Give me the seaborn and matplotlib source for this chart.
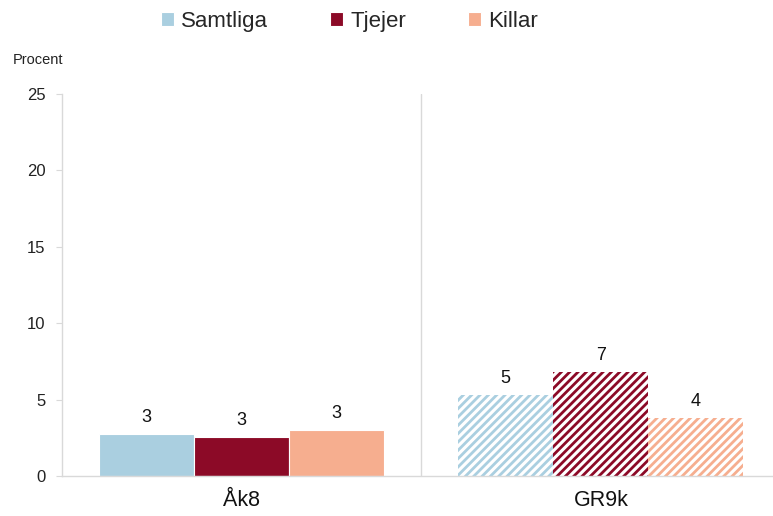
import pandas as pd
import seaborn as sns
import matplotlib.pyplot as plt

# data
grupper = ["Åk8", "GR9k"]
serier = ["Samtliga", "Tjejer", "Killar"]
samtliga = [2.75, 5.3]
tjejer = [2.55, 6.8]
killar = [3.0, 3.8]
farger = ["#AACFE0", "#8C0A27", "#F6AE8F"]

df = pd.DataFrame({
    "Grupp": grupper * 3,
    "Kön": [s for s in serier for _ in grupper],
    "Procent": samtliga + tjejer + killar,
})

sns.set_style("white")
plt.rcParams['font.family'] = ['Liberation Sans', 'DejaVu Sans']
plt.rcParams['hatch.linewidth'] = 2.0

fig = plt.figure(figsize=(7.73, 5.16), dpi=100)
ax = fig.add_axes([0.0805, 0.0775, 0.929, 0.7405])

sns.barplot(data=df, x="Grupp", y="Procent", hue="Kön", palette=farger,
            width=0.794, gap=0, ax=ax, legend=True, saturation=1,
            edgecolor="white", linewidth=0.8)

# streckade staplar för GR9k
for cont, farg in zip(ax.containers, farger):
    bar = cont.patches[1]
    bar.set_facecolor("white")
    bar.set_edgecolor(farg)
    bar.set_hatch("////")
    bar.set_linewidth(0)
    ax.bar_label(cont, labels=[f"{round(v)}" for v in cont.datavalues],
                 padding=6, fontsize=13, color="#111111")

ax.set_ylim(0, 25)
ax.set_xlim(-0.5, 1.5)
ax.set_yticks(range(0, 26, 5))
ax.set_xlabel("")
ax.set_ylabel("")
ax.axvline(0.5, color="#D9D9D9", linewidth=1)

for side in ["top", "right"]:
    ax.spines[side].set_visible(False)
for side in ["left", "bottom"]:
    ax.spines[side].set_color("#D9D9D9")
    ax.spines[side].set_linewidth(1)

ax.tick_params(axis="y", length=4, color="#D9D9D9", labelsize=12,
               labelcolor="#222222", left=True, pad=8)
ax.tick_params(axis="x", length=0, labelsize=15.5, labelcolor="#111111", pad=10)

fig.text(0.016, 0.876, "Procent", fontsize=10.5, color="#222222")

handles, labels = ax.get_legend_handles_labels()
ax.legend(handles, labels, loc="center", bbox_to_anchor=(0.452, 0.958),
          bbox_transform=fig.transFigure, ncol=3, frameon=False,
          fontsize=16, handlelength=0.6, handleheight=0.6,
          handletextpad=0.3, columnspacing=2.8)

fig.savefig("out.png", dpi=100)
